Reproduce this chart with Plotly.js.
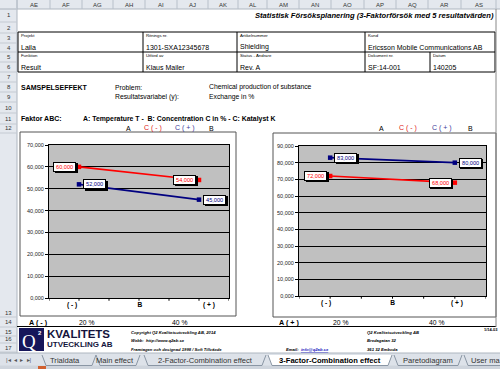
<!DOCTYPE html>
<html><head><meta charset="utf-8">
<script src="https://cdn.plot.ly/plotly-3.0.1.min.js"></script>
<style>html,body{margin:0;padding:0;background:#fff;overflow:hidden}#chart{width:500px;height:369px;}</style>
</head><body><div id="chart"></div>
<script>
// ---------- data ----------
const categories = ['( - )', 'B', '( + )'];
const levelPos = [1, 5];            // (-) and (+) slots on the category axis
const leftRed = [60, 54];           // A(-), C(-)
const leftBlue = [52, 45];          // A(-), C(+)
const rightRed = [72, 68];          // A(+), C(-)
const rightBlue = [83, 80];         // A(+), C(+)
const leftYMax = 70;
const rightYMax = 90;
const columnLetters = ['AE','AF','AG','AH','AI','AJ','AK','AL','AM','AN','AO','AP','AQ','AR','AS'];
const rowNumbers = ['1','2','3','4','5','6','7','8','9','10','11','12','13','14','15','16','17'];
const sheetTabs = ['Trialdata','Main effect','2-Factor-Combination effect','3-Factor-Combination effect','Paretodiagram','User ma'];

// ---------- helpers (pixel -> paper) ----------
const W = 500, H = 369;
const FONT = 'Liberation Sans, Arial, sans-serif';
const px = x => x / W, py = y => 1 - y / H;
const ann = [], shp = [];
function T(x, y, text, o = {}) {
  ann.push({xref:'paper', yref:'paper', x:px(x), y:py(y), text:text, showarrow:false,
    xanchor:o.xa || 'left', yanchor:o.ya || 'middle',
    font:{family:o.family || FONT, size:o.size || 7, color:o.color || '#000'},
    bgcolor:o.bg, borderpad:o.pad || 0});
}
function R(x0, y0, x1, y1, fill, line, lw) {
  shp.push({type:'rect', xref:'paper', yref:'paper', x0:px(x0), x1:px(x1), y0:py(y0), y1:py(y1),
    fillcolor:fill || 'rgba(0,0,0,0)', line:{color:line || 'rgba(0,0,0,0)', width:line ? (lw || 1) : 0}, layer:'below'});
}
function L(x0, y0, x1, y1, color, w) {
  shp.push({type:'line', xref:'paper', yref:'paper', x0:px(x0), x1:px(x1), y0:py(y0), y1:py(y1),
    line:{color:color || '#000', width:w || 1}, layer:'below'});
}
const fmt = v => v.toFixed(3).replace('.', ',');

// ---------- spreadsheet chrome ----------
R(0, 0, 500, 9, '#e4e8ee');
R(0, 0, 17, 355, '#e4e8ee');
L(0, 9, 500, 9, '#aeb6c0');
L(17, 0, 17, 355, '#aeb6c0');
const colBounds = [17,50,82,113,145,177,208,238,267,299,331,364,396,428,461,496];
colBounds.forEach(b => L(b, 0, b, 9, '#b8c0ca'));
columnLetters.forEach((c, i) => T((colBounds[i] + colBounds[i+1]) / 2, 4.8, c, {xa:'center', size:6, color:'#333'}));
const rowBounds = [9,22,33,43,52,62,72,82,92,102,113,124,133,317,327,336,343,352];
const rowLabelY = [15,28,38,48,57,67,77,87,97,108,119,128,313,322,332,339,348];
rowBounds.forEach(b => L(0, b, 17, b, '#c4cad2'));
rowNumbers.forEach((r, i) => T(8.5, rowLabelY[i], r, {xa:'center', size:6, color:'#333'}));

// title
T(495, 15, '<b><i>Statistisk Försöksplanering (3-Faktorförsök med 5 resultatvärden)</i></b>', {xa:'right', size:7.6});

// info table
R(18, 32, 495, 72, null, '#000', 1);
L(18, 52, 495, 52, '#000');
L(143, 32, 143, 72, '#000');
L(237, 32, 237, 72, '#000');
L(365, 32, 365, 72, '#000');
L(430, 52, 430, 72, '#000');
const small = {size:4.3};
T(20, 35.5, 'Projekt', small); T(20, 47, 'Laila');
T(145, 35.5, 'Ritnings nr.', small); T(145, 47, '1301-SXA12345678');
T(239, 35.5, 'Artikelnummer', small); T(239, 47, 'Shielding');
T(367, 35.5, 'Kund', small); T(367, 47, 'Ericsson Mobile Communications AB');
T(20, 55.5, 'Funktion', small); T(20, 67, 'Result');
T(145, 55.5, 'Utförd av', small); T(145, 67, 'Klaus Mailer');
T(239, 55.5, 'Status - Ändrare', small); T(239, 67, 'Rev. A');
T(367, 55.5, 'Dokument nr.', small); T(367, 67, 'SF:14-001');
T(432, 55.5, 'Datum', small); T(432, 67, '140205');

T(20, 87, '<b>SAMSPELSEFFEKT</b>', {size:7});
T(114, 87, 'Problem:', {size:6.8});
T(208, 87, 'Chemical production of substance', {size:6.8});
T(114, 97, 'Resultatsvariabel (y):', {size:6.8});
T(208, 97, 'Exchange in %', {size:6.8});
T(20, 119, '<b>Faktor ABC:</b>', {size:7});
T(82, 119, '<b>A: Temperature T -  B: Concentration C in % - C: Katalyst K</b>', {size:6.9});

// row 12 headers
T(128, 128, 'A', {xa:'center', size:7});
T(153, 128, 'C ( - )', {xa:'center', size:7, color:'#e02020'});
T(185, 128, 'C ( + )', {xa:'center', size:7, color:'#3a3a9a'});
T(211, 128, 'B', {xa:'center', size:7});
T(381, 128, 'A', {xa:'center', size:7});
T(408, 128, 'C ( - )', {xa:'center', size:7, color:'#e02020'});
T(442, 128, 'C ( + )', {xa:'center', size:7, color:'#3a3a9a'});
T(470, 128, 'B', {xa:'center', size:7});

// chart frames
R(20, 132, 236, 316, null, '#555', 1);
R(273, 133, 496, 317, null, '#555', 1);

// row 14
T(28, 322, '<b>A ( - )</b>', {size:7.2});
T(87, 322, '20 %', {xa:'center', size:6.8});
T(180, 322, '40 %', {xa:'center', size:6.8});
T(278, 322, '<b>A ( + )</b>', {size:7.2});
T(341, 322, '20 %', {xa:'center', size:6.8});
T(437, 322, '40 %', {xa:'center', size:6.8});

// footer
L(17, 326.5, 496, 326.5, '#000');
L(496, 9, 496, 327, '#888');
R(19, 328, 44, 351, '#16165a');
T(29, 341, 'Q', {xa:'center', size:19, color:'#fff', family:'Liberation Serif, serif'});
T(39.5, 332.5, '<b>2</b>', {xa:'center', size:6, color:'#fff'});
T(46, 334, '<b>KVALITETS</b>', {size:11.5, color:'#14143c'});
T(46, 344.5, '<b>UTVECKLING AB</b>', {size:8, color:'#14143c'});
const tiny = {size:4.2};
T(130, 332, '<b><i>Copyright Q2 Kvalitetsutveckling AB, 2014</i></b>', tiny);
T(130, 340, '<b><i>Webb:  http://www.q2ab.se</i></b>', tiny);
T(130, 349, '<b><i>Framtagen och designad 1998 / Soft Tillväxde</i></b>', tiny);
T(285, 349, '<b><i>Email:  <span style="color:#2020c0"><u>info@q2ab.se</u></span></i></b>', tiny);
T(366, 332, '<b><i>Q2 Kvalitetsutveckling AB</i></b>', tiny);
T(366, 340, '<b><i>Bredagatan 32</i></b>', tiny);
T(366, 349, '<b><i>361 32 Emboda</i></b>', tiny);
T(483, 329, '<b>1/14-03</b>', {size:4});

// tabs bar
R(0, 353, 500, 369, '#dde2e9');
L(0, 353, 500, 353, '#aeb6c0');
R(0, 365.5, 500, 369, '#cfd5dd');
T(5, 360, '|◂  ◂  ▸  ▸|', {size:6, color:'#555'});
const tabX = [[42, 96], [96, 140], [144, 266], [268, 392], [394, 462], [464, 510]];
const tabC = [65, 115, 205, 330, 428, 470];
tabX.forEach((t, i) => {
  const active = i === 3;
  shp.push({type:'path', xref:'paper', yref:'paper', layer:'below',
    path:`M${px(t[0])},${py(355)} L${px(t[0]+4)},${py(365.5)} L${px(t[1]-4)},${py(365.5)} L${px(t[1])},${py(355)}`,
    fillcolor: active ? '#ffffff' : 'rgba(0,0,0,0)', line:{color:'#8a96a4', width:1}});
  T(tabC[i], 360, active ? '<b>' + sheetTabs[i] + '</b>' : sheetTabs[i],
    {xa: i === 5 ? 'left' : 'center', size:7.6, color: active ? '#000' : '#333'});
});
R(38, 366, 46, 369, '#d06030');

// ---------- charts ----------
const traces = [];
function addChart(xa, ya, red, blue) {
  traces.push({x:levelPos, y:red, xaxis:xa, yaxis:ya, mode:'lines+markers', hoverinfo:'skip',
    line:{color:'#ff0000', width:1.6}, marker:{symbol:'square', size:4.5, color:'#ff0000'}});
  traces.push({x:levelPos, y:blue, xaxis:xa, yaxis:ya, mode:'lines+markers', hoverinfo:'skip',
    line:{color:'#000080', width:1.6}, marker:{symbol:'square', size:4.5, color:'#000080'}});
  const lab = (xv, yv, color, side) => {
    const base = {xref:xa, yref:ya, x:xv, y:yv, showarrow:false, width:20, height:6.4,
      xanchor: side < 0 ? 'right' : 'left', yanchor:'middle', borderpad:0.6, borderwidth:1};
    const sh = side < 0 ? -3 : 4;
    // drop shadow box (no text)
    ann.push(Object.assign({}, base, {text:'&nbsp;', xshift:sh + 1.5, yshift:-1.5, bgcolor:'#000',
      bordercolor:'#000', font:{family:FONT, size:5.6, color:'#000'}}));
    ann.push(Object.assign({}, base, {text:fmt(yv), xshift:sh, bgcolor:'#fff', bordercolor:'#000',
      font:{family:FONT, size:5.6, color:color}}));
  };
  red.forEach((v, i) => lab(levelPos[i], v, '#ff0000', -1));
  blue.forEach((v, i) => lab(levelPos[i], v, '#000080', 1));
  for (let k = 0; k <= 6; k++) {
    shp.push({type:'line', xref:xa, yref:ya + ' domain', x0:k, x1:k, y0:0, y1:-0.018,
      line:{color:'#000', width:1}});
  }
}
addChart('x', 'y', leftRed, leftBlue);
addChart('x2', 'y2', rightRed, rightBlue);

const axX = (dom, tv) => ({domain:dom, range:[0, 6], showgrid:false, zeroline:false, showline:true,
  linecolor:'#000', linewidth:1, mirror:true, ticks:'', tickmode:'array', tickvals:tv,
  ticktext:categories.map(c => '<b>' + c + '</b>'), tickfont:{family:FONT, size:6.6, color:'#000'},
  fixedrange:true});
const axY = (dom, max) => ({domain:dom, range:[0, max], dtick:10, tick0:0, tickformat:'.3f',
  showgrid:true, gridcolor:'#000', gridwidth:1, zeroline:false, showline:true, linecolor:'#000',
  linewidth:1, mirror:true, ticks:'outside', ticklen:3, tickcolor:'#000',
  tickfont:{family:FONT, size:5.5, color:'#222'}, fixedrange:true});

const layout = {
  width:W, height:H, margin:{l:0, r:0, t:0, b:0}, showlegend:false,
  paper_bgcolor:'#ffffff', plot_bgcolor:'#c0c0c0', separators:',.',
  xaxis: axX([px(49), px(229)], [0.77, 3.03, 5.33]),
  yaxis: axY([py(298), py(145)], leftYMax),
  xaxis2: Object.assign(axX([px(299), px(486)], [0.87, 3.0, 5.07]), {anchor:'y2'}),
  yaxis2: Object.assign(axY([py(296), py(146)], rightYMax), {anchor:'x2'}),
  annotations: ann, shapes: shp
};
layout.xaxis.anchor = 'y';
layout.yaxis.anchor = 'x';
Plotly.newPlot('chart', traces, layout, {displayModeBar:false, staticPlot:true});
</script></body></html>
